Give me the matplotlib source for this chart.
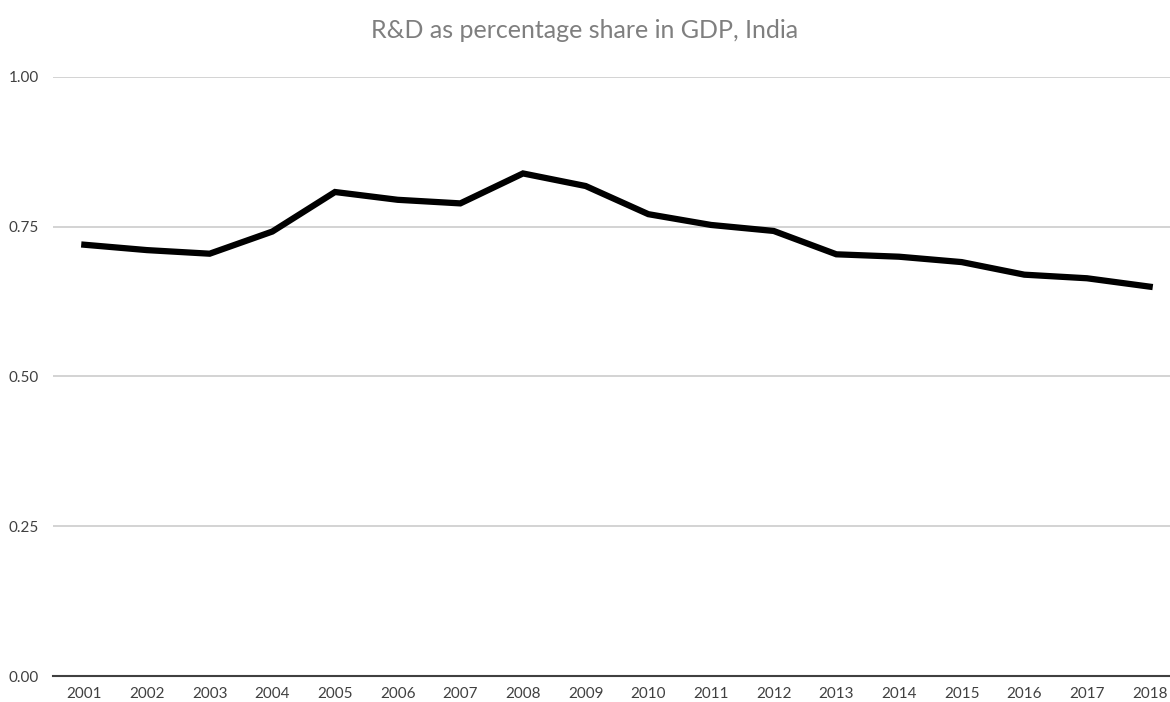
import matplotlib
matplotlib.use("Agg")
import matplotlib.pyplot as plt
import numpy as np

years = ['2001', '2002', '2003', '2004', '2005', '2006', '2007', '2008', '2009',
         '2010', '2011', '2012', '2013', '2014', '2015', '2016', '2017', '2018']
rd_share = [0.72, 0.711, 0.705, 0.742, 0.808, 0.795, 0.789, 0.839, 0.818,
            0.771, 0.753, 0.743, 0.704, 0.700, 0.691, 0.670, 0.664, 0.650]
yticks = [0.0, 0.25, 0.5, 0.75, 1.0]

plt.rcParams['font.family'] = ['Lato', 'DejaVu Sans']

fig = plt.figure(figsize=(11.7, 7.02), dpi=100)
ax = fig.add_axes([53 / 1170, 26 / 702, 1128 / 1170, 599 / 702])

x = np.arange(len(years))
ax.plot(x, rd_share, color='black', linewidth=4.5, solid_joinstyle='miter', zorder=3)

ax.set_xlim(-0.5, len(years) - 0.5)
ax.set_ylim(0, 1)
ax.set_xticks(x)
ax.set_xticklabels(years)
ax.set_yticks(yticks)
ax.set_yticklabels(['%.2f' % v for v in yticks])
ax.tick_params(length=0, labelsize=11, labelcolor='#404040')
ax.tick_params(axis='x', pad=8)
ax.tick_params(axis='y', pad=10)

ax.grid(axis='y', color='#d0d0d0', linewidth=1.3)
ax.set_axisbelow(True)
for s in ['top', 'right', 'left']:
    ax.spines[s].set_visible(False)
ax.spines['bottom'].set_color('#404040')
ax.spines['bottom'].set_linewidth(1.5)
ax.spines['bottom'].set_zorder(2)

fig.text(0.5, 1 - 31 / 702, 'R&D as percentage share in GDP, India', ha='center', va='center',
         fontsize=18, color='#7f7f7f')

fig.savefig('out.png', dpi=100, facecolor='white')
